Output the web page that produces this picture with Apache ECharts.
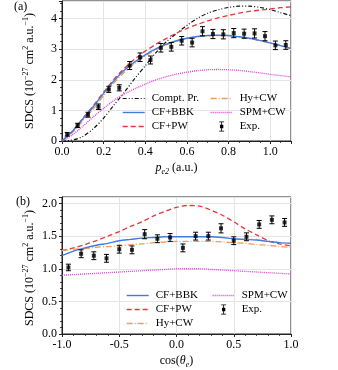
<!DOCTYPE html>
<html>
<head>
<meta charset="utf-8">
<script src="https://cdn.jsdelivr.net/npm/echarts@6/dist/echarts.min.js"></script>
<style>
  html,body{margin:0;padding:0;background:#fff;}
  #main{width:338px;height:370px;}
</style>
</head>
<body>
<div id="main"></div>
<script>
// panel (a) : SDCS vs p_e2
let aX=[0,0.05,0.1,0.15,0.2,0.25,0.3,0.35,0.4,0.45,0.5,0.55,0.6,0.65,0.7,0.75,0.8,0.85,0.9,0.95,1.0,1.05,1.1];
let aCompt=[0,0.03,0.15,0.4,0.75,1.18,1.6,2.05,2.46,2.88,3.24,3.52,3.78,4.01,4.18,4.29,4.37,4.41,4.41,4.37,4.3,4.2,4.1];
let aBBK=[0,0.32,0.72,1.12,1.56,1.97,2.32,2.59,2.82,3.01,3.16,3.28,3.36,3.42,3.45,3.46,3.45,3.41,3.36,3.29,3.21,3.12,3.03];
let aPW=[0,0.33,0.74,1.15,1.6,2.02,2.38,2.68,2.94,3.16,3.35,3.53,3.68,3.81,3.93,4.03,4.11,4.18,4.24,4.28,4.32,4.36,4.39];
let aHy=[0,0.28,0.66,1.05,1.48,1.9,2.25,2.54,2.78,2.98,3.14,3.26,3.35,3.41,3.44,3.45,3.44,3.4,3.35,3.28,3.2,3.11,3.02];
let aSPM=[0,0.2,0.48,0.79,1.07,1.33,1.54,1.71,1.86,2.0,2.1,2.19,2.25,2.3,2.33,2.34,2.33,2.31,2.27,2.23,2.18,2.14,2.1];
let aExpX=[0.025,0.075,0.125,0.175,0.225,0.275,0.325,0.375,0.425,0.475,0.525,0.575,0.625,0.675,0.725,0.775,0.825,0.875,0.925,0.975,1.025,1.075];
let aExpY=[0.22,0.51,0.86,1.12,1.69,1.74,2.47,2.74,2.65,3.05,3.08,3.28,3.22,3.59,3.5,3.49,3.53,3.51,3.52,3.43,3.13,3.14];
let aExpErr=[0.06,0.07,0.08,0.09,0.1,0.1,0.13,0.14,0.13,0.14,0.14,0.14,0.14,0.15,0.15,0.15,0.15,0.15,0.15,0.15,0.14,0.14];

// panel (b) : SDCS vs cos(theta_e)
let bX=[-1,-0.9,-0.8,-0.7,-0.6,-0.5,-0.4,-0.3,-0.2,-0.1,0,0.1,0.2,0.3,0.4,0.5,0.6,0.7,0.8,0.9,1.0];
let bBBK=[1.2,1.27,1.32,1.36,1.39,1.43,1.45,1.47,1.48,1.49,1.49,1.49,1.49,1.49,1.48,1.46,1.45,1.44,1.42,1.4,1.39];
let bPW=[1.28,1.32,1.37,1.43,1.5,1.57,1.65,1.72,1.81,1.88,1.94,1.97,1.96,1.9,1.82,1.72,1.61,1.52,1.43,1.38,1.35];
let bHy=[1.28,1.3,1.31,1.33,1.34,1.35,1.37,1.38,1.4,1.41,1.42,1.42,1.42,1.42,1.41,1.4,1.39,1.37,1.36,1.34,1.33];
let bSPM=[0.9,0.91,0.92,0.93,0.94,0.95,0.96,0.97,0.98,0.99,1.0,1.0,1.0,0.99,0.98,0.97,0.96,0.95,0.94,0.93,0.92];
let bExpX=[-0.944,-0.833,-0.722,-0.611,-0.5,-0.389,-0.278,-0.167,-0.056,0.056,0.167,0.278,0.389,0.5,0.611,0.722,0.833,0.944];
let bExpY=[1.02,1.23,1.2,1.16,1.3,1.29,1.53,1.46,1.48,1.32,1.5,1.5,1.62,1.43,1.49,1.68,1.75,1.71];
let bExpErr=[0.05,0.06,0.06,0.06,0.06,0.06,0.07,0.06,0.06,0.06,0.06,0.06,0.07,0.06,0.06,0.06,0.06,0.06];

const FONT='Liberation Serif';
// colour + dash of each model curve
const STYLES={
  'Compt. Pr.':{color:'#111',type:[4,2,1,2,1,2],width:1.2},
  'CF+BBK':{color:'#3f7be0',type:'solid',width:1.4},
  'CF+PW':{color:'#e8363c',type:[5,3],width:1.3},
  'Hy+CW':{color:'#f59a55',type:[6,2,1,2],width:1.3},
  'SPM+CW':{color:'#dd3ddd',type:[1,1],width:1.3}
};

function pairs(xs,ys){
  let out=[];
  for(let i=0;i<xs.length;i++) out.push([xs[i],ys[i]]);
  return out;
}
function errData(xs,ys,es){
  let out=[];
  for(let i=0;i<xs.length;i++) out.push([xs[i],ys[i]-es[i],ys[i]+es[i]]);
  return out;
}
function renderErr(params,api){
  let x=api.value(0);
  let lo=api.coord([x,api.value(1)]);
  let hi=api.coord([x,api.value(2)]);
  let w=2.5,st={stroke:'#000',lineWidth:1};
  return {type:'group',children:[
    {type:'line',shape:{x1:lo[0],y1:lo[1],x2:hi[0],y2:hi[1]},style:st},
    {type:'line',shape:{x1:lo[0]-w,y1:lo[1],x2:lo[0]+w,y2:lo[1]},style:st},
    {type:'line',shape:{x1:hi[0]-w,y1:hi[1],x2:hi[0]+w,y2:hi[1]},style:st}
  ]};
}
function lineSeries(name,idx,xs,ys){
  let s=STYLES[name];
  return {
    name:name,type:'line',xAxisIndex:idx,yAxisIndex:idx,
    data:pairs(xs,ys),smooth:0.3,symbol:'none',silent:true,z:3,
    lineStyle:{color:s.color,width:s.width,type:s.type},
    itemStyle:{color:s.color}
  };
}
let richName={
  n:{fontFamily:FONT,fontSize:12,color:'#000',lineHeight:16},
  s:{fontFamily:FONT,fontSize:8,color:'#000',verticalAlign:'top',lineHeight:9},
  i:{fontFamily:FONT,fontSize:12,color:'#000',fontStyle:'italic',lineHeight:16},
  sb:{fontFamily:FONT,fontSize:8,color:'#000',fontStyle:'italic',verticalAlign:'bottom',lineHeight:9}
};
function valueAxis(idx,min,max,interval,minorSplit,fmt,showMax,name,pos){
  return {
    type:'value',gridIndex:idx,min:min,max:max,interval:interval,position:pos,
    name:name,nameLocation:'middle',nameGap:19,nameMoveOverlap:false,
    nameTextStyle:{color:'#000',fontFamily:FONT,fontSize:12,rich:richName},
    axisLine:{onZero:false,lineStyle:{color:'#222',width:1}},
    axisTick:{length:3,lineStyle:{color:'#222'}},
    minorTick:{show:true,splitNumber:minorSplit,length:1.8,lineStyle:{color:'#222'}},
    splitLine:{show:true,lineStyle:{color:'#e4e4e4',width:1}},
    axisLabel:{color:'#000',fontFamily:FONT,fontSize:12,margin:5,showMaxLabel:showMax,formatter:fmt}
  };
}
let yName='{n|SDCS (10}{s|−27}{n| cm}{s|2}{n| a.u.}{s|−1}{n|)}';
let f1=function(v){return v.toFixed(1);};
let f0=function(v){return v.toFixed(0);};

let expIcon='path://M3,0H9V1H3Z M5.5,1H6.5V11H5.5Z M3,11H9V12H3Z M4,4H8V8H4Z';
function legendBox(names,left,top){
  return {
    left:left,top:top,orient:'vertical',itemWidth:22,itemHeight:10,itemGap:3,padding:0,
    selectedMode:false,
    itemStyle:{opacity:0},
    textStyle:{fontFamily:FONT,fontSize:11,color:'#000',lineHeight:11,padding:[0,0,0,2]},
    data:names.map(function(n){
      if(n==='Exp.') return {name:n,icon:expIcon,itemStyle:{color:'#000',opacity:1}};
      let s=STYLES[n];
      return {name:n,lineStyle:{color:s.color,type:s.type,width:s.width}};
    })
  };
}
function yTitle(cx,cy){
  return {type:'text',x:cx,y:cy,rotation:Math.PI/2,
    style:{text:yName,rich:richName,align:'center',verticalAlign:'middle',fill:'#000'}};
}

let option={
  animation:false,
  backgroundColor:'#fff',
  grid:[
    {left:62,right:47,top:1,height:140,show:true,borderColor:'#222',borderWidth:1,backgroundColor:'transparent'},
    {left:62,right:47,top:197,height:141,show:true,borderColor:'#222',borderWidth:1,backgroundColor:'transparent'}
  ],
  xAxis:[
    valueAxis(0,0,1.1,0.2,4,f1,false,'{i|p}{sb|e2}{n| (a.u.)}','bottom'),
    valueAxis(1,-1,1,0.5,5,f1,true,'{n|cos(}{i|θ}{sb|e}{n|)}','bottom')
  ],
  yAxis:[
    valueAxis(0,0,4.58,1,4,f0,false,'','left'),
    valueAxis(1,0,2.1,0.5,5,f1,false,'','left')
  ],
  legend:[
    legendBox(['Compt. Pr.','CF+BBK','CF+PW'],122,93),
    legendBox(['Hy+CW','SPM+CW','Exp.'],210,93),
    legendBox(['CF+BBK','CF+PW','Hy+CW'],126,290),
    legendBox(['SPM+CW','Exp.'],212,290)
  ],
  graphic:[
    {type:'text',left:14,top:1,style:{text:'(a)',font:'12px '+FONT,fill:'#000'}},
    {type:'text',left:16,top:196,style:{text:'(b)',font:'12px '+FONT,fill:'#000'}},
    yTitle(30,71),
    yTitle(30,268)
  ],
  series:[
    lineSeries('Compt. Pr.',0,aX,aCompt),
    lineSeries('SPM+CW',0,aX,aSPM),
    lineSeries('CF+PW',0,aX,aPW),
    lineSeries('Hy+CW',0,aX,aHy),
    lineSeries('CF+BBK',0,aX,aBBK),
    {name:'Exp. err a',type:'custom',xAxisIndex:0,yAxisIndex:0,renderItem:renderErr,
     data:errData(aExpX,aExpY,aExpErr),z:4,silent:true},
    {name:'Exp.',type:'scatter',xAxisIndex:0,yAxisIndex:0,data:pairs(aExpX,aExpY),
     symbol:'rect',symbolSize:4,itemStyle:{color:'#000'},z:5,silent:true},

    lineSeries('SPM+CW',1,bX,bSPM),
    lineSeries('CF+PW',1,bX,bPW),
    lineSeries('Hy+CW',1,bX,bHy),
    lineSeries('CF+BBK',1,bX,bBBK),
    {name:'Exp. err b',type:'custom',xAxisIndex:1,yAxisIndex:1,renderItem:renderErr,
     data:errData(bExpX,bExpY,bExpErr),z:4,silent:true},
    {name:'Exp.',type:'scatter',xAxisIndex:1,yAxisIndex:1,data:pairs(bExpX,bExpY),
     symbol:'rect',symbolSize:4,itemStyle:{color:'#000'},z:5,silent:true}
  ]
};

let chart=echarts.init(document.getElementById('main'),null,{renderer:'canvas'});
chart.setOption(option);
</script>
</body>
</html>
